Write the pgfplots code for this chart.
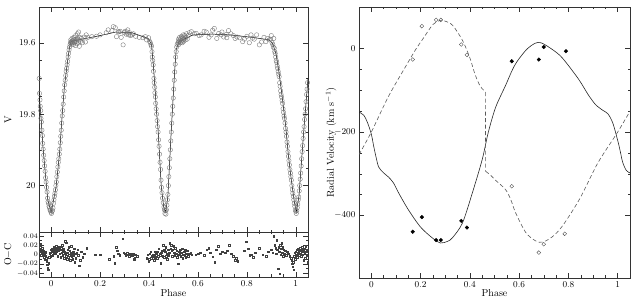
\documentclass[border=0pt]{standalone}
\usepackage{pgfplots}
\pgfplotsset{compat=1.18}
\begin{document}
\begin{tikzpicture}
\useasboundingbox (0,0) rectangle (636pt,302pt);
\pgfplotsset{
  every axis/.append style={
    scale only axis,
    tick align=inside,
    major tick length=5pt,
    minor tick length=2.5pt,
    axis line style={black!80, line width=0.5pt},
    every tick/.style={black!80, line width=0.4pt},
    tick label style={font=\fontsize{9}{10}\selectfont},
    label style={font=\fontsize{10}{12}\selectfont},
    xmin=-0.05, xmax=1.05,
    xtick={0,0.2,0.4,0.6,0.8,1},
    minor x tick num=3,
    scaled ticks=false,
  }
}
% ---------------- Light curve ----------------
\begin{axis}[
  at={(39pt,70pt)}, anchor=south west,
  width=269pt, height=225pt,
  y dir=reverse, ymin=19.5, ymax=20.13,
  ytick={19.6,19.8,20}, minor y tick num=3,
  xticklabels={},
  ylabel={V},
  ylabel style={at={(axis description cs:-0.115,0.5)}, anchor=center},
]
\addplot[only marks, mark=o, mark size=2.2pt, draw=black!55, line width=0.35pt] coordinates {
(-0.049,19.700) (-0.048,19.742) (-0.046,19.760) (-0.045,19.778) (-0.043,19.790) (-0.042,19.812)
(-0.040,19.822) (-0.038,19.845) (-0.036,19.860) (-0.035,19.882) (-0.033,19.898) (-0.031,19.915)
(-0.029,19.930) (-0.027,19.945) (-0.025,19.960) (-0.023,19.978) (-0.021,19.990) (-0.019,20.005)
(-0.017,20.018) (-0.015,20.035) (-0.013,20.045) (-0.011,20.050) (-0.009,20.058) (-0.007,20.062)
(-0.005,20.068) (-0.003,20.070) (-0.001,20.075) (0.001,20.078) (0.003,20.072) (0.005,20.070)
(0.007,20.063) (0.009,20.050) (0.011,20.040) (0.013,20.030) (0.015,20.022) (0.017,20.012)
(0.019,20.000) (0.021,19.990) (0.023,19.975) (0.025,19.962) (0.027,19.948) (0.029,19.935)
(0.031,19.925) (0.033,19.912) (0.035,19.898) (0.037,19.880) (0.039,19.862) (0.041,19.845)
(0.043,19.825) (0.045,19.805) (0.047,19.790) (0.049,19.772) (0.051,19.752) (0.053,19.735)
(0.055,19.718) (0.057,19.705) (0.059,19.692) (0.061,19.680) (0.063,19.672) (0.065,19.662)
(0.067,19.652) (0.069,19.640) (0.071,19.630) (0.073,19.620) (0.075,19.612) (0.077,19.605)
(0.079,19.600) (0.081,19.597)
(0.080,19.592) (0.082,19.602) (0.084,19.598) (0.085,19.588) (0.087,19.600) (0.088,19.595)
(0.090,19.605) (0.091,19.590) (0.093,19.585) (0.094,19.598) (0.096,19.600) (0.097,19.592)
(0.099,19.608) (0.100,19.580) (0.102,19.596) (0.104,19.590) (0.105,19.603) (0.107,19.575)
(0.108,19.587) (0.110,19.598) (0.112,19.570) (0.113,19.592) (0.115,19.610) (0.117,19.585)
(0.120,19.596) (0.124,19.588) (0.128,19.600) (0.135,19.584) (0.140,19.598) (0.143,19.578)
(0.150,19.585) (0.166,19.583) (0.185,19.582) (0.200,19.578) (0.225,19.572) (0.233,19.564)
(0.248,19.566) (0.254,19.555) (0.262,19.558) (0.267,19.583) (0.274,19.570) (0.277,19.569)
(0.282,19.568) (0.286,19.585) (0.294,19.606) (0.298,19.572) (0.302,19.568) (0.306,19.576)
(0.310,19.570) (0.313,19.564) (0.316,19.578) (0.320,19.572) (0.324,19.580) (0.330,19.578)
(0.336,19.575) (0.345,19.582) (0.360,19.585) (0.375,19.586) (0.385,19.583) (0.390,19.592)
(0.398,19.586) (0.402,19.596) (0.405,19.600) (0.408,19.606)
(0.410,19.610) (0.412,19.625) (0.413,19.640) (0.415,19.650) (0.417,19.662) (0.418,19.680)
(0.420,19.700) (0.421,19.712) (0.423,19.725) (0.424,19.740) (0.426,19.752) (0.427,19.770)
(0.429,19.785) (0.431,19.800) (0.433,19.818) (0.435,19.835) (0.437,19.850) (0.439,19.872)
(0.441,19.890) (0.443,19.912) (0.445,19.935) (0.447,19.955) (0.449,19.985) (0.451,20.005)
(0.453,20.020) (0.455,20.035) (0.458,20.048) (0.461,20.060) (0.463,20.068) (0.465,20.078)
(0.467,20.070) (0.469,20.080) (0.471,20.068) (0.473,20.055) (0.475,20.040) (0.477,20.025)
(0.479,20.000) (0.481,19.975) (0.483,19.950) (0.485,19.925) (0.487,19.900) (0.489,19.875)
(0.491,19.850) (0.493,19.825) (0.495,19.800) (0.497,19.778) (0.499,19.755) (0.501,19.730)
(0.503,19.705) (0.505,19.682) (0.507,19.660) (0.509,19.640) (0.511,19.625) (0.513,19.612)
(0.515,19.605) (0.518,19.600)
(0.520,19.598) (0.521,19.590) (0.522,19.605) (0.524,19.595) (0.525,19.585) (0.527,19.600)
(0.528,19.592) (0.530,19.588) (0.531,19.598) (0.533,19.582) (0.534,19.594) (0.536,19.600)
(0.537,19.586) (0.539,19.592) (0.540,19.578) (0.542,19.596) (0.544,19.588) (0.546,19.580)
(0.548,19.592) (0.550,19.585) (0.553,19.575) (0.556,19.590) (0.560,19.580) (0.565,19.572)
(0.573,19.569) (0.585,19.575) (0.593,19.574) (0.605,19.580) (0.613,19.578) (0.625,19.568)
(0.634,19.570) (0.645,19.585) (0.654,19.578) (0.660,19.565) (0.667,19.560) (0.677,19.588)
(0.685,19.574) (0.695,19.578) (0.698,19.570) (0.705,19.584) (0.716,19.577) (0.718,19.586)
(0.725,19.566) (0.735,19.575) (0.745,19.580) (0.752,19.588) (0.760,19.584) (0.770,19.586)
(0.783,19.597) (0.790,19.590) (0.800,19.582) (0.810,19.600) (0.817,19.578) (0.823,19.587)
(0.830,19.590) (0.840,19.578) (0.851,19.606) (0.860,19.598) (0.870,19.585) (0.878,19.597)
(0.885,19.588) (0.891,19.592) (0.897,19.590) (0.900,19.580)
(0.903,19.600) (0.906,19.605) (0.908,19.612) (0.910,19.588) (0.912,19.615) (0.914,19.625)
(0.916,19.630) (0.918,19.640) (0.920,19.650) (0.922,19.655) (0.924,19.665) (0.926,19.672)
(0.928,19.680) (0.930,19.688) (0.932,19.695) (0.934,19.712) (0.936,19.722) (0.938,19.735)
(0.940,19.745) (0.942,19.752) (0.944,19.762) (0.946,19.770) (0.948,19.785) (0.950,19.795)
(0.952,19.805) (0.954,19.812) (0.956,19.825) (0.958,19.840) (0.960,19.850) (0.962,19.862)
(0.964,19.878) (0.966,19.890) (0.968,19.905) (0.970,19.918) (0.972,19.930) (0.974,19.942)
(0.976,19.955) (0.978,19.965) (0.980,19.975) (0.982,19.985) (0.984,20.000) (0.986,20.012)
(0.988,20.022) (0.990,20.030) (0.992,20.040) (0.994,20.050) (0.996,20.058) (0.998,20.068)
(1.000,20.072) (1.002,20.078) (1.004,20.070) (1.006,20.062) (1.008,20.052) (1.010,20.040)
(1.012,20.032) (1.014,20.015) (1.016,20.000) (1.018,19.982) (1.020,19.965) (1.022,19.945)
(1.024,19.925) (1.026,19.905) (1.028,19.888) (1.030,19.868) (1.032,19.850) (1.034,19.835)
(1.036,19.815) (1.038,19.800) (1.040,19.785) (1.042,19.765) (1.044,19.745) (1.046,19.730)
(1.048,19.712)
};
\addplot[black, line width=0.5pt] coordinates {
(-0.050,19.735) (-0.041,19.816) (-0.034,19.890) (-0.023,19.975) (-0.014,20.040) (0.000,20.075)
(0.020,20.003) (0.034,19.910) (0.045,19.800) (0.054,19.723) (0.064,19.667) (0.075,19.611)
(0.082,19.596) (0.200,19.580) (0.265,19.570) (0.330,19.572) (0.396,19.588) (0.410,19.604)
(0.417,19.658) (0.424,19.723) (0.430,19.788) (0.437,19.844) (0.444,19.928) (0.450,20.003)
(0.460,20.060) (0.468,20.075) (0.477,20.030) (0.484,19.937) (0.491,19.844) (0.498,19.760)
(0.505,19.676) (0.511,19.620) (0.522,19.597) (0.580,19.578) (0.660,19.576) (0.730,19.578)
(0.823,19.585) (0.891,19.592) (0.905,19.602) (0.919,19.630) (0.932,19.686) (0.946,19.760)
(0.959,19.835) (0.969,19.910) (0.980,19.975) (0.993,20.040) (1.002,20.075) (1.013,20.030)
(1.023,19.937) (1.034,19.835) (1.043,19.760) (1.050,19.700)
};
\end{axis}
% ---------------- Residuals ----------------
\begin{axis}[
  at={(39pt,25pt)}, anchor=south west,
  width=269pt, height=45pt,
  ymin=-0.048, ymax=0.048,
  ytick={-0.04,-0.02,0,0.02,0.04}, minor y tick num=1,
  yticklabel style={font=\fontsize{7.5}{8}\selectfont, inner sep=1pt,
    /pgf/number format/fixed, /pgf/number format/precision=2},
  xlabel={Phase},
  xlabel style={at={(axis description cs:0.5,-0.36)}, anchor=center},
  ylabel={O$-$C},
  ylabel style={at={(axis description cs:-0.115,0.5)}, anchor=center},
]
\addplot[only marks, mark=square, mark size=0.8pt, draw=black!75, line width=0.35pt] coordinates {
(-0.048,0.020) (-0.047,0.012) (-0.046,0.016) (-0.044,0.006) (-0.043,0.022) (-0.041,0.010)
(-0.040,-0.002) (-0.038,0.004) (-0.036,0.014) (-0.034,0.000) (-0.032,0.008) (-0.030,-0.006)
(-0.028,0.003) (-0.026,-0.010) (-0.024,0.005) (-0.022,-0.004) (-0.020,-0.008) (-0.018,-0.014)
(-0.016,-0.022) (-0.014,-0.028) (-0.012,-0.032) (-0.010,-0.018) (-0.008,-0.006) (-0.006,0.002)
(-0.004,0.004) (-0.002,-0.003) (0.000,0.010) (0.002,0.006) (0.004,0.012) (0.006,-0.002)
(0.008,0.008) (0.010,0.015) (0.012,0.004) (0.014,0.009) (0.016,0.002) (0.018,0.012)
(0.020,0.018) (0.022,0.006) (0.024,0.010) (0.026,-0.004) (0.028,0.013) (0.030,0.008)
(0.032,0.016) (0.034,0.002) (0.036,0.010) (0.038,-0.006) (0.040,0.014) (0.042,0.004)
(0.044,0.020) (0.046,-0.002) (0.048,0.008) (0.050,0.012) (0.052,-0.008) (0.054,0.006)
(0.056,0.028) (0.058,0.002) (0.060,-0.004) (0.062,0.025) (0.064,-0.010) (0.066,0.004)
(0.068,0.010) (0.070,-0.006) (0.072,0.016) (0.074,-0.002) (0.076,0.008) (0.078,-0.012)
(0.080,0.004) (0.082,0.018) (0.084,-0.004) (0.086,0.002) (0.088,-0.010) (0.090,0.006)
(0.092,-0.002) (0.094,0.012) (0.096,-0.016) (0.098,0.002) (0.100,-0.008) (0.104,0.004)
(0.108,0.010) (0.110,-0.002) (0.114,-0.024) (0.118,-0.012) (0.122,0.006) (0.128,-0.006)
(0.135,0.002) (0.145,0.014)
(0.180,0.000) (0.200,0.000) (0.236,-0.010) (0.255,-0.004) (0.260,-0.018) (0.265,0.016)
(0.270,0.008) (0.274,0.002) (0.280,-0.002) (0.292,0.034) (0.296,0.004) (0.300,0.002)
(0.305,-0.001) (0.310,0.003) (0.315,0.000) (0.318,-0.004) (0.322,0.002) (0.326,0.000)
(0.330,-0.002) (0.334,0.001) (0.338,-0.010) (0.342,-0.008) (0.346,0.000) (0.352,-0.004)
(0.390,-0.008) (0.394,0.000) (0.398,-0.014) (0.400,-0.010) (0.403,0.002) (0.406,0.006)
(0.409,-0.008) (0.412,-0.003) (0.415,-0.004) (0.418,0.000) (0.420,-0.012) (0.423,-0.006)
(0.426,0.006) (0.428,-0.002) (0.430,0.002) (0.433,-0.008) (0.436,0.006) (0.438,-0.004)
(0.440,0.012) (0.443,0.002) (0.446,-0.002) (0.448,-0.018) (0.450,0.004) (0.453,0.008)
(0.456,-0.004) (0.458,0.020) (0.461,0.010) (0.463,-0.006) (0.466,0.006) (0.468,0.016)
(0.470,-0.004) (0.472,0.002) (0.475,-0.010) (0.478,0.010) (0.480,-0.002) (0.483,0.004)
(0.485,0.024) (0.488,0.012) (0.490,0.020) (0.493,0.008) (0.495,-0.004) (0.497,0.010)
(0.500,0.018) (0.502,0.004) (0.505,-0.002) (0.507,0.014) (0.510,0.002) (0.513,0.008)
(0.515,-0.006) (0.518,0.000) (0.520,-0.020) (0.523,0.006) (0.525,0.002) (0.528,0.010)
(0.530,-0.004) (0.533,0.004) (0.535,0.012) (0.538,-0.008) (0.540,0.000) (0.543,0.006)
(0.545,-0.002) (0.548,0.010) (0.550,-0.006) (0.553,0.002) (0.556,0.008) (0.560,-0.004)
(0.565,0.002) (0.570,0.004) (0.575,0.000)
(0.590,0.000) (0.600,0.002) (0.610,0.004) (0.625,-0.002) (0.636,0.010) (0.644,0.013)
(0.650,0.004) (0.660,-0.005) (0.668,-0.016) (0.675,0.010) (0.682,0.018) (0.690,0.002)
(0.700,0.006) (0.712,0.004) (0.720,0.008) (0.727,0.020) (0.735,0.002) (0.745,-0.004)
(0.752,-0.012) (0.757,-0.008) (0.762,-0.014) (0.790,0.008) (0.797,0.027) (0.805,0.012)
(0.812,-0.002) (0.820,0.000) (0.825,-0.006) (0.835,0.004) (0.850,0.014) (0.865,0.000)
(0.878,-0.004) (0.888,0.006)
(0.900,0.010) (0.905,0.004) (0.910,0.039) (0.914,0.020) (0.918,0.014) (0.920,0.002)
(0.922,0.031) (0.925,0.010) (0.927,-0.030) (0.930,0.016) (0.932,0.006) (0.934,-0.041)
(0.936,0.020) (0.938,0.000) (0.940,0.012) (0.942,0.024) (0.944,0.004) (0.946,0.016)
(0.948,-0.004) (0.950,0.010) (0.953,0.002) (0.956,0.008) (0.960,-0.002) (0.965,0.006)
(0.970,0.002) (0.975,-0.004) (0.980,-0.008) (0.983,-0.012) (0.985,-0.020) (0.987,-0.026)
(0.989,-0.016) (0.991,-0.032) (0.993,-0.004) (0.995,0.004) (0.997,-0.010) (0.999,0.006)
(1.001,0.000) (1.003,0.010) (1.005,-0.006) (1.007,0.002) (1.009,0.012) (1.011,0.004)
(1.013,-0.002) (1.015,0.008) (1.017,0.014) (1.019,0.002) (1.021,0.010) (1.023,-0.004)
(1.025,0.006) (1.027,0.016) (1.029,0.000) (1.031,0.008) (1.033,-0.012) (1.035,0.012)
(1.037,0.004) (1.039,-0.008) (1.041,0.018) (1.043,0.006) (1.045,-0.002) (1.047,0.010)
(1.049,-0.016)
};
\end{axis}
% ---------------- Radial velocity ----------------
\begin{axis}[
  at={(359pt,24pt)}, anchor=south west,
  width=271pt, height=271pt,
  ymin=-550, ymax=100,
  ytick={-400,-200,0}, minor y tick num=3,
  xlabel={Phase},
  xlabel style={at={(axis description cs:0.5,-0.055)}, anchor=center},
  ylabel={Radial Velocity (km s$^{-1}$)},
  ylabel style={at={(axis description cs:-0.103,0.5)}, anchor=center},
]
\addplot[black!85, line width=0.6pt, smooth, tension=0.5] coordinates {
(-0.05,-152) (-0.03,-160) (-0.015,-178) (0.0,-205) (0.01,-235) (0.02,-262) (0.03,-284)
(0.05,-298) (0.07,-308) (0.09,-322) (0.11,-345) (0.15,-386) (0.2,-428) (0.25,-455)
(0.28,-466) (0.31,-462) (0.33,-453) (0.37,-418) (0.41,-346) (0.45,-266) (0.475,-200)
(0.505,-140) (0.545,-88) (0.57,-54) (0.59,-32) (0.63,-2) (0.665,13) (0.69,14)
(0.735,-2) (0.775,-22) (0.84,-72) (0.88,-110) (0.91,-134) (0.94,-148) (0.96,-156)
(0.98,-178) (1.0,-220) (1.01,-245) (1.02,-272) (1.035,-292) (1.05,-298)
};
\addplot[black!65, line width=0.6pt, dash pattern=on 4pt off 2.5pt, smooth, tension=0.5] coordinates {
(-0.05,-254) (0.0,-200) (0.07,-114) (0.14,-42) (0.18,-2) (0.21,24) (0.25,58) (0.28,68)
(0.30,66) (0.33,56) (0.37,20) (0.40,-22) (0.42,-60) (0.44,-88) (0.455,-99) (0.463,-104)
};
\addplot[black!65, line width=0.6pt, dash pattern=on 4pt off 2.5pt] coordinates {
(0.463,-104) (0.464,-294)
};
\addplot[black!65, line width=0.6pt, dash pattern=on 4pt off 2.5pt, smooth, tension=0.5] coordinates {
(0.464,-294) (0.485,-304) (0.505,-316) (0.545,-338) (0.566,-362) (0.586,-394) (0.627,-441)
(0.667,-461) (0.695,-464) (0.735,-451) (0.776,-425) (0.844,-362) (0.912,-282) (0.95,-245)
(1.0,-200) (1.054,-146)
};
\addplot[only marks, mark=*, mark size=1.8pt, black] coordinates {
(0.168,-439) (0.205,-404) (0.263,-459) (0.282,-459) (0.365,-413) (0.388,-429)
(0.570,-30) (0.680,-26) (0.700,4) (0.790,-6)
};
\addplot[only marks, mark=o, mark size=1.9pt, draw=black!70, line width=0.4pt] coordinates {
(0.168,-26) (0.205,54) (0.263,69) (0.282,69) (0.365,10) (0.388,-15)
(0.570,-330) (0.680,-489) (0.700,-469) (0.785,-444)
};
\end{axis}
\end{tikzpicture}
\end{document}
